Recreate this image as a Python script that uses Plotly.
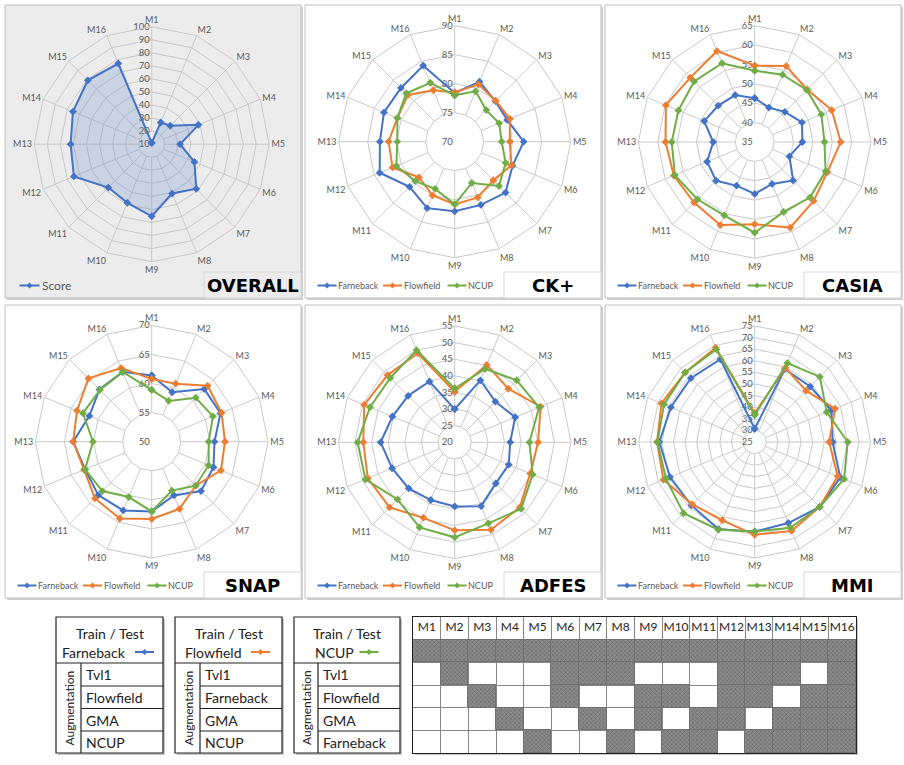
import plotly.graph_objects as go

W, H = 904, 765

categories = ["M1", "M2", "M3", "M4", "M5", "M6", "M7", "M8",
              "M9", "M10", "M11", "M12", "M13", "M14", "M15", "M16"]

overall_score = [11, 28, 30, 48.7, 31.7, 45.4, 58.3, 50.9, 65.2, 58.6, 57, 74.5, 72.1, 75.3, 79.2, 76.9]

ck_farneback = [78.4, 81.2, 79.9, 79.8, 81.9, 80.8, 82.4, 81.8, 82.0, 82.4, 81.0, 84.0, 82.9, 83.2, 83.1, 84.2]
ck_flowfield = [78.5, 80.7, 80.0, 80.3, 79.5, 80.6, 79.4, 80.4, 80.8, 80.0, 78.7, 81.6, 81.4, 80.7, 81.4, 79.6]
ck_ncup = [78.0, 79.4, 77.7, 78.3, 78.1, 79.5, 80.8, 77.7, 80.8, 78.8, 79.6, 80.9, 79.9, 80.7, 81.8, 81.0]

ca_farneback = [46.3, 44.6, 46.0, 48.2, 47.3, 44.7, 49.0, 46.7, 48.4, 47.2, 49.1, 48.3, 45.7, 49.1, 48.3, 48.1]
ca_flowfield = [54.7, 56.2, 54.1, 56.5, 57.2, 55.3, 56.5, 58.9, 56.2, 58.2, 57.1, 57.6, 58.0, 59.8, 58.5, 60.4]
ca_ncup = [53.4, 53.8, 54.0, 53.6, 53.0, 54.8, 55.2, 54.5, 58.4, 55.5, 55.9, 57.3, 56.4, 56.3, 57.1, 57.0]

sn_farneback = [61.4, 59.2, 62.8, 62.8, 60.8, 61.5, 62.0, 60.0, 62.0, 62.8, 63.0, 62.4, 63.5, 61.6, 62.7, 63.0]
sn_flowfield = [60.8, 60.8, 63.6, 63.0, 62.6, 62.9, 60.7, 62.5, 63.3, 64.3, 63.8, 62.6, 63.5, 63.9, 65.4, 63.7]
sn_ncup = [58.9, 57.6, 60.7, 61.4, 59.8, 60.6, 60.7, 59.1, 62.0, 60.3, 62.0, 62.4, 60.1, 62.8, 62.6, 63.0]

ad_farneback = [30.0, 40.2, 37.3, 39.7, 36.7, 37.6, 37.5, 40.8, 39.3, 38.8, 39.6, 40.4, 42.3, 40.3, 39.8, 39.8]
ad_flowfield = [35.2, 45.2, 42.8, 48.0, 45.1, 44.6, 47.7, 48.5, 46.5, 44.6, 47.7, 48.3, 47.5, 49.5, 48.6, 49.0]
ad_ncup = [36.2, 43.9, 46.4, 47.5, 42.5, 45.4, 48.3, 46.4, 48.6, 47.7, 44.3, 49.1, 49.2, 47.6, 47.4, 50.0]

mm_farneback = [30.7, 59.0, 58.8, 60.8, 58.6, 64.9, 64.6, 62.8, 63.6, 65.7, 63.6, 64.5, 66.1, 64.1, 63.9, 63.6]
mm_flowfield = [37.4, 59.6, 56.3, 62.5, 57.1, 63.7, 64.6, 66.5, 65.0, 61.5, 63.0, 67.6, 67.1, 68.5, 67.4, 69.0]
mm_ncup = [36.7, 61.8, 64.7, 58.6, 65.1, 66.7, 64.6, 65.0, 63.6, 65.9, 68.4, 66.4, 66.9, 67.3, 67.4, 68.2]

series_names = ["Farneback", "Flowfield", "NCUP"]

aug_rows = [
    [1, 1, 1, 1, 1, 1, 1, 1, 1, 1, 1, 1, 1, 1, 1, 1],
    [0, 1, 0, 0, 0, 1, 1, 1, 0, 0, 0, 1, 1, 1, 0, 1],
    [0, 0, 1, 0, 0, 1, 0, 0, 1, 1, 0, 1, 1, 0, 1, 1],
    [0, 0, 0, 1, 0, 0, 1, 0, 1, 0, 1, 1, 0, 1, 1, 1],
    [0, 0, 0, 0, 1, 0, 0, 1, 0, 1, 1, 0, 1, 1, 1, 1],
]

table_headers = ["Farneback", "Flowfield", "NCUP"]
table_rows = [["Tvl1", "Flowfield", "GMA", "NCUP"],
              ["Tvl1", "Farneback", "GMA", "NCUP"],
              ["Tvl1", "Flowfield", "GMA", "Farneback"]]

BLUE, ORANGE, GREEN = "#4472C4", "#ED7D31", "#70AD47"
COLORS = [BLUE, ORANGE, GREEN]
GRID = "#c9c9c9"
TXT = "#595959"
FONT = "Lato"


def px(x):
    return x / W


def py(y):
    return 1 - y / H


def shadow(x0, y0, x1, y1, color="#d0d0d0", d=2):
    return [dict(type="rect", xref="paper", yref="paper", x0=px(x1), x1=px(x1 + d),
                 y0=py(y1 + d), y1=py(y0 + d), fillcolor=color, line=dict(width=0), layer="below"),
            dict(type="rect", xref="paper", yref="paper", x0=px(x0 + d), x1=px(x1 + d),
                 y0=py(y1 + d), y1=py(y1), fillcolor=color, line=dict(width=0), layer="below")]


def legend_glyph(xc, yc, color, half=9.5, d=3):
    return [dict(type="line", xref="paper", yref="paper", x0=px(xc - half), x1=px(xc + half),
                 y0=py(yc), y1=py(yc), line=dict(color=color, width=2)),
            dict(type="path", xref="paper", yref="paper",
                 path=f"M {px(xc)},{py(yc - d)} L {px(xc + d)},{py(yc)} L {px(xc)},{py(yc + d)} L {px(xc - d)},{py(yc)} Z",
                 fillcolor=color, line=dict(width=0))]


panels = [
    dict(title="OVERALL", series=[("Score", overall_score)], rmin=10, rmax=100, step=10,
         box=(5, 5, 301, 298), c=(151.7, 144.2), R=117.5, bg="#ececec"),
    dict(title="CK+", series=list(zip(series_names, [ck_farneback, ck_flowfield, ck_ncup])),
         rmin=70, rmax=90, step=5, box=(305, 5, 601, 298), c=(454.7, 141.7), R=116, bg="white"),
    dict(title="CASIA", series=list(zip(series_names, [ca_farneback, ca_flowfield, ca_ncup])),
         rmin=35, rmax=65, step=5, box=(605, 5, 901, 298), c=(754.7, 142), R=116.3, bg="white"),
    dict(title="SNAP", series=list(zip(series_names, [sn_farneback, sn_flowfield, sn_ncup])),
         rmin=50, rmax=70, step=5, box=(5, 305, 301, 598), c=(151.7, 441.7), R=116.3, bg="white"),
    dict(title="ADFES", series=list(zip(series_names, [ad_farneback, ad_flowfield, ad_ncup])),
         rmin=20, rmax=55, step=5, box=(305, 305, 601, 598), c=(454.7, 442.3), R=116.3, bg="white"),
    dict(title="MMI", series=list(zip(series_names, [mm_farneback, mm_flowfield, mm_ncup])),
         rmin=25, rmax=75, step=5, box=(605, 305, 901, 598), c=(754.7, 442), R=116, bg="white"),
]

legend3 = [(22, 31), (87.5, 97), (152, 161)]
legend1 = [(24.5, 35)]

fig = go.Figure()
shapes = []
annotations = []
layout = {}

for i, p in enumerate(panels, start=1):
    pid = "polar" if i == 1 else f"polar{i}"
    x0, y0, x1, y1 = p["box"]
    shapes += shadow(x0, y0, x1, y1)
    shapes.append(dict(type="rect", xref="paper", yref="paper", x0=px(x0), x1=px(x1),
                       y0=py(y1), y1=py(y0), fillcolor=p["bg"], line=dict(color="#bfbfbf", width=1), layer="below"))
    shapes.append(dict(type="rect", xref="paper", yref="paper", x0=px(x1 - 97), x1=px(x1),
                       y0=py(y1), y1=py(y1 - 26), fillcolor=p["bg"], line=dict(color="#d9d9d9", width=1), layer="below"))
    annotations.append(dict(text=f"<b>{p['title']}</b>", xref="paper", yref="paper",
                            x=px(x1 - 48.5), y=py(y1 - 13), xanchor="center", yanchor="middle",
                            showarrow=False, font=dict(family="DejaVu Sans", size=18, color="black")))
    cx, cy = p["c"]
    R = p["R"]
    ticks = list(range(p["rmin"], p["rmax"] + 1, p["step"]))
    layout[pid] = dict(
        domain=dict(x=[px(cx - R), px(cx + R)], y=[py(cy + R), py(cy - R)]),
        bgcolor="rgba(0,0,0,0)",
        gridshape="linear",
        angularaxis=dict(type="category", categoryorder="array", categoryarray=categories,
                         direction="clockwise", rotation=90, showgrid=False, showline=True,
                         linecolor=GRID, linewidth=1, ticks="",
                         tickfont=dict(family=FONT, size=9, color=TXT)),
        radialaxis=dict(range=[p["rmin"], p["rmax"]], tickvals=ticks, angle=90, tickangle=90,
                        side="counterclockwise",
                        showline=False, ticks="", gridcolor=GRID, gridwidth=1,
                        tickfont=dict(family=FONT, size=9.5, color=TXT), layer="below traces"),
    )
    sr, st = [], []
    for c in categories:
        sr += [p["rmin"] + p["step"], p["rmax"], None]
        st += [c, c, None]
    fig.add_trace(go.Scatterpolar(r=sr, theta=st, mode="lines", subplot=pid, showlegend=False,
                                  line=dict(color=GRID, width=1), hoverinfo="skip", connectgaps=False))
    leg_pos = legend1 if i == 1 else legend3
    ly = y1 - 12.5
    for k, (name, vals) in enumerate(p["series"]):
        rr = list(vals) + [vals[0]]
        tt = categories + [categories[0]]
        kw = {}
        if p["title"] == "OVERALL":
            kw = dict(fill="toself", fillcolor="rgba(68,114,196,0.2)")
        fig.add_trace(go.Scatterpolar(r=rr, theta=tt, mode="lines+markers", name=name, subplot=pid,
                                      showlegend=False, line=dict(color=COLORS[k], width=2),
                                      marker=dict(symbol="diamond", size=6, color=COLORS[k]), **kw))
        lc, lt = leg_pos[k]
        shapes += legend_glyph(x0 + lc, ly, COLORS[k], half=9.5 if i > 1 else 10)
        annotations.append(dict(text=name, xref="paper", yref="paper", x=px(x0 + lt), y=py(ly),
                                xanchor="left", yanchor="middle", showarrow=False,
                                font=dict(family=FONT, size=9 if i > 1 else 12, color=TXT)))

# ---- left tables ----
tbl_x = [(56, 81, 163), (175, 200, 282), (294, 318, 400)]
hdr_text_x = [(94, 144.5), (213, 260.5), (334, 369)]
ty0, thd, ty1 = 617, 663, 753
row_lines = [686, 708.5, 731]
row_centers = [674.5, 697, 720, 742]
for j, (xa, xd, xb) in enumerate(tbl_x):
    shapes += shadow(xa, ty0, xb, ty1, color="#c8c8c8")
    shapes.append(dict(type="rect", xref="paper", yref="paper", x0=px(xa), x1=px(xb),
                       y0=py(ty1), y1=py(ty0), fillcolor="white", line=dict(color="#222", width=1.2), layer="below"))
    shapes.append(dict(type="line", xref="paper", yref="paper", x0=px(xa), x1=px(xb),
                       y0=py(thd), y1=py(thd), line=dict(color="#222", width=1.2)))
    shapes.append(dict(type="line", xref="paper", yref="paper", x0=px(xd), x1=px(xd),
                       y0=py(thd), y1=py(ty1), line=dict(color="#222", width=1.2)))
    for yl in row_lines:
        shapes.append(dict(type="line", xref="paper", yref="paper", x0=px(xd), x1=px(xb),
                           y0=py(yl), y1=py(yl), line=dict(color="#222", width=1.2)))
    annotations.append(dict(text="Train / Test", xref="paper", yref="paper", x=px((xa + xb) / 2),
                            y=py(633), xanchor="center", yanchor="middle", showarrow=False,
                            font=dict(family=FONT, size=14, color="#222")))
    hx, gx = hdr_text_x[j]
    annotations.append(dict(text=table_headers[j], xref="paper", yref="paper", x=px(hx),
                            y=py(652), xanchor="center", yanchor="middle", showarrow=False,
                            font=dict(family=FONT, size=14, color="#222")))
    shapes += legend_glyph(gx, 652, COLORS[j])
    annotations.append(dict(text="Augmentation", xref="paper", yref="paper", x=px((xa + xd) / 2),
                            y=py(708), xanchor="center", yanchor="middle", showarrow=False, textangle=-90,
                            font=dict(family=FONT, size=12, color="#222")))
    for r_txt, rc in zip(table_rows[j], row_centers):
        annotations.append(dict(text=r_txt, xref="paper", yref="paper", x=px(xd + 3), y=py(rc),
                                xanchor="left", yanchor="middle", showarrow=False,
                                font=dict(family=FONT, size=14, color="#222")))

# ---- augmentation grid ----
gx0, gx1, gy0, gy1 = 413, 856, 617, 753
shapes += shadow(gx0, gy0, gx1, gy1, color="#c8c8c8")
for k, row in enumerate(aug_rows):
    xs = [c for c, v in zip(categories, row) if v]
    fig.add_trace(go.Bar(x=xs, y=[1] * len(xs), base=[4 - k] * len(xs), width=1,
                         xaxis="x", yaxis="y", showlegend=False, hoverinfo="skip",
                         marker=dict(color="#7a7a7a",
                                     pattern=dict(shape="x", fgcolor="#404040", bgcolor="#8c8c8c",
                                                  size=3, solidity=0.35),
                                     line=dict(color="#6f6f6f", width=1))))
fig.add_trace(go.Scatter(x=categories, y=[5.5] * len(categories), mode="text", text=categories,
                         textfont=dict(family=FONT, size=12, color="#222"), showlegend=False,
                         hoverinfo="skip", xaxis="x", yaxis="y"))

layout["xaxis"] = dict(domain=[px(gx0), px(gx1)], type="category", categoryorder="array",
                       categoryarray=categories, tickson="boundaries", showgrid=True,
                       gridcolor="#888", gridwidth=1, showticklabels=False, ticks="",
                       showline=True, mirror=True, linecolor="#222", linewidth=1.2,
                       range=[-0.5, 15.5], fixedrange=True, zeroline=False)
layout["yaxis"] = dict(domain=[py(gy1), py(gy0)], range=[0, 6], tick0=0, dtick=1, showgrid=True,
                       gridcolor="#888", gridwidth=1, showticklabels=False, ticks="",
                       showline=True, mirror=True, linecolor="#222", linewidth=1.2,
                       fixedrange=True, zeroline=False)

fig.update_layout(width=W, height=H, margin=dict(l=0, r=0, t=0, b=0, autoexpand=False),
                  paper_bgcolor="white", plot_bgcolor="white", barmode="overlay", bargap=0,
                  showlegend=False,
                  shapes=shapes, annotations=annotations, font=dict(family=FONT), **layout)

fig.write_html("out.html", config={"displayModeBar": False},
               post_script="document.body.style.margin='0';document.body.style.overflow='hidden';")
